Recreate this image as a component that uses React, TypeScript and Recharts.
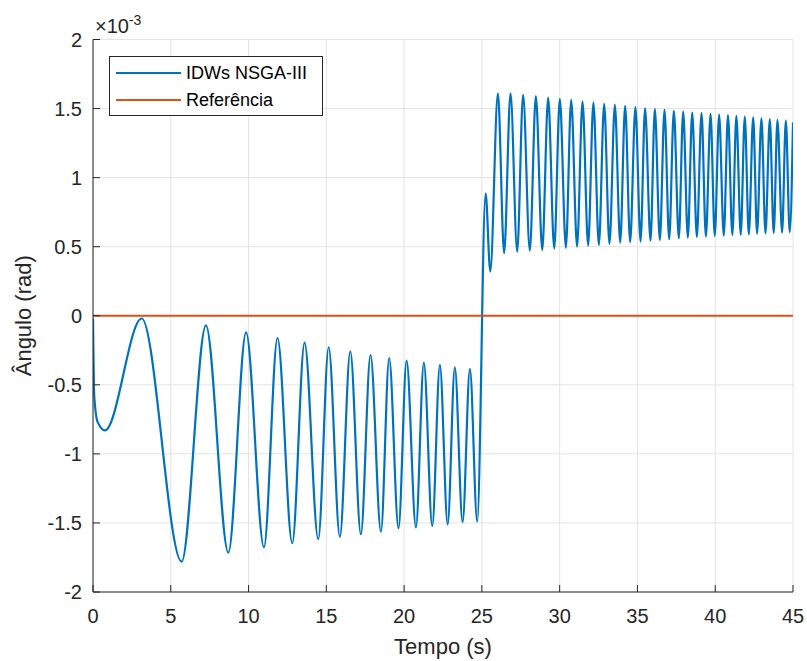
import React from 'react';
import { LineChart, Line, XAxis, YAxis, CartesianGrid, Legend, Label } from 'recharts';

// Tempo (s) at the extremes of the response
const tempo = [
  0, 0.08, 0.3, 0.77, 3.13, 5.7, 7.26, 8.7, 9.84, 10.99,
  11.86, 12.81, 13.6, 14.48, 15.15, 15.87, 16.54, 17.22, 17.84, 18.51,
  19.04, 19.64, 20.16, 20.76, 21.27, 21.81, 22.3, 22.8, 23.26, 23.76,
  24.23, 24.7, 25.24, 25.54, 26.03, 26.43, 26.84, 27.27, 27.65, 28.08,
  28.47, 28.88, 29.26, 29.65, 30.01, 30.4, 30.74, 31.12, 31.47, 31.83,
  32.17, 32.52, 32.86, 33.2, 33.55, 33.89, 34.21, 34.53, 34.87, 35.2,
  35.49, 35.84, 36.12, 36.44, 36.74, 37.04, 37.34, 37.66, 37.94, 38.24,
  38.52, 38.82, 39.12, 39.4, 39.7, 39.97, 40.25, 40.55, 40.82, 41.1,
  41.36, 41.64, 41.9, 42.16, 42.44, 42.69, 42.97, 43.23, 43.51, 43.76,
  44.0, 44.3, 44.54, 44.79, 45,
];

// Ângulo (×10^-3 rad)
const angulo = [
  -0.02, -0.58, -0.77, -0.83, -0.02, -1.78, -0.07, -1.715, -0.12, -1.676,
  -0.162, -1.647, -0.195, -1.618, -0.228, -1.6, -0.257, -1.582, -0.284, -1.563,
  -0.306, -1.539, -0.325, -1.532, -0.34, -1.522, -0.356, -1.51, -0.373, -1.495,
  -0.385, -1.49, 0.887, 0.32, 1.611, 0.453, 1.611, 0.464, 1.6, 0.471,
  1.591, 0.476, 1.579, 0.486, 1.57, 0.493, 1.563, 0.5, 1.55, 0.508,
  1.543, 0.513, 1.534, 0.52, 1.526, 0.53, 1.519, 0.534, 1.51, 0.537,
  1.502, 0.544, 1.497, 0.549, 1.49, 0.554, 1.483, 0.561, 1.478, 0.566,
  1.471, 0.571, 1.467, 0.573, 1.461, 0.578, 1.456, 0.58, 1.452, 0.585,
  1.447, 0.587, 1.442, 0.59, 1.437, 0.595, 1.43, 0.597, 1.423, 0.6,
  1.418, 0.602, 1.413, 0.605, 1.40,
];

const referenciaTempo = [0, 45];
const referenciaValor = [0, 0];

const xTicks = [0, 5, 10, 15, 20, 25, 30, 35, 40, 45];
const yTicks = [-2, -1.5, -1, -0.5, 0, 0.5, 1, 1.5, 2];

const serieNomes = ['IDWs NSGA-III', 'Referência'];
const serieCores = ['#0072BD', '#D95319'];

const dados = tempo.map((t, i) => ({ t, angulo: angulo[i] }));
const dadosRef = referenciaTempo.map((t, i) => ({ t, ref: referenciaValor[i] }));

const AXIS = '#262626';
const FONT = '"Liberation Sans", Arial, Helvetica, sans-serif';

const LegendBox = (props: any) => {
  const payload = props.payload || [];
  return (
    <div
      style={{
        width: 214,
        height: 60,
        boxSizing: 'border-box',
        border: `1px solid ${AXIS}`,
        background: '#fff',
        fontFamily: FONT,
      }}
    >
      <svg width={212} height={58} style={{ display: 'block' }}>
        {payload.map((e: any, i: number) => (
          <g key={i}>
            <line x1={6} x2={71} y1={16 + i * 27} y2={16 + i * 27} stroke={e.color} strokeWidth={2.2} />
            <text x={76} y={16 + i * 27} dy="0.36em" fontSize={18} fill="#000">
              {e.value}
            </text>
          </g>
        ))}
      </svg>
    </div>
  );
};

export default function App() {
  return (
    <div style={{ position: 'absolute', left: 0, top: 0, width: 807, height: 661, fontFamily: FONT, background: '#fff' }}>
      <LineChart
        width={807}
        height={661}
        data={dados}
        margin={{ top: 39.5, right: 14, bottom: 0, left: 0 }}
        style={{ fontFamily: FONT }}
      >
        <CartesianGrid stroke="#e3e3e3" strokeWidth={1} />
        <XAxis
          dataKey="t"
          type="number"
          domain={[0, 45]}
          ticks={xTicks}
          allowDataOverflow
          height={69}
          tickSize={-7}
          tickMargin={24}
          stroke={AXIS}
          tick={{ fill: AXIS, fontSize: 20 }}
        >
          <Label value="Tempo (s)" position="insideBottom" offset={7} style={{ fontSize: 22, fill: AXIS }} />
        </XAxis>
        <XAxis
          xAxisId="top"
          orientation="top"
          type="number"
          domain={[0, 45]}
          ticks={xTicks}
          height={0}
          tickSize={-7}
          tick={false}
          stroke={AXIS}
        />
        <YAxis
          type="number"
          domain={[-2, 2]}
          ticks={yTicks}
          width={93}
          tickSize={-7}
          tickMargin={18}
          stroke={AXIS}
          tick={{ fill: AXIS, fontSize: 20 }}
        >
          <Label
            value="Ângulo (rad)"
            angle={-90}
            position="insideLeft"
            offset={23}
            style={{ fontSize: 22, fill: AXIS, textAnchor: 'middle' }}
          />
        </YAxis>
        <YAxis
          yAxisId="right"
          orientation="right"
          type="number"
          domain={[-2, 2]}
          ticks={yTicks}
          width={0}
          tickSize={-7}
          tick={false}
          stroke={AXIS}
        />
        <Legend
          layout="vertical"
          align="center"
          verticalAlign="middle"
          content={<LegendBox />}
          wrapperStyle={{ position: 'absolute', left: 109, top: 55.5, width: 214, height: 60 }}
        />
        <Line
          type="monotone"
          dataKey="angulo"
          name={serieNomes[0]}
          stroke={serieCores[0]}
          strokeWidth={2.2}
          dot={false}
          activeDot={false}
          isAnimationActive={false}
        />
        <Line
          type="linear"
          data={dadosRef}
          dataKey="ref"
          name={serieNomes[1]}
          stroke={serieCores[1]}
          strokeWidth={2.2}
          dot={false}
          activeDot={false}
          isAnimationActive={false}
        />
      </LineChart>
      <svg
        width={200}
        height={45}
        style={{ position: 'absolute', left: 0, top: 0, pointerEvents: 'none' }}
      >
        <text x={95} y={33.3} fontSize={20} fill={AXIS} fontFamily={FONT}>
          ×10
          <tspan dy={-8.3} fontSize={14}>-3</tspan>
        </text>
      </svg>
    </div>
  );
}
